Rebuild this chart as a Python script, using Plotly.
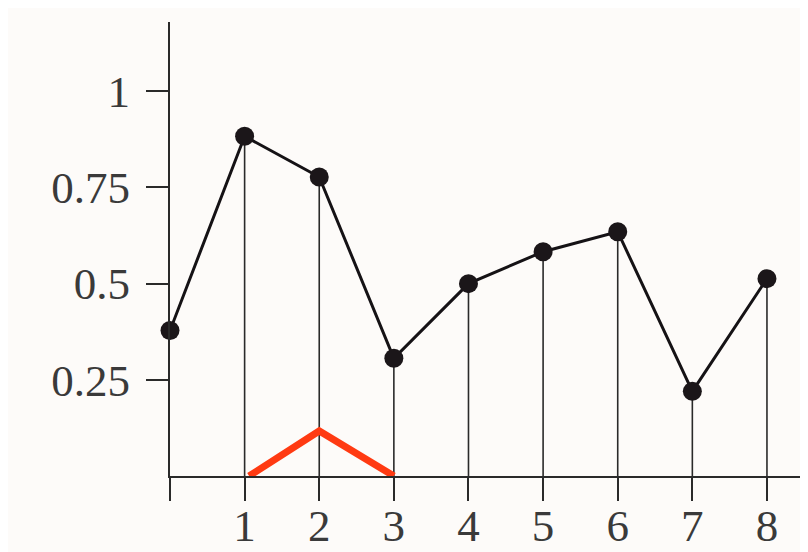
import plotly.graph_objects as go

# Data
x_vals = [0, 1, 2, 3, 4, 5, 6, 7, 8]
y_vals = [0.378, 0.883, 0.777, 0.306, 0.50, 0.583, 0.635, 0.22, 0.513]
hat_x = [1.06, 2, 3]
hat_y = [0.0, 0.117, 0.0]
x_tick_vals = [0, 1, 2, 3, 4, 5, 6, 7, 8]
x_tick_text = ["", "1", "2", "3", "4", "5", "6", "7", "8"]
y_tick_vals = [0.25, 0.5, 0.75, 1]
y_tick_text = ["0.25", "0.5", "0.75", "1"]

# stems built from data
stem_x, stem_y = [], []
for xv, yv in zip(x_vals, y_vals):
    if xv == 0:
        continue
    stem_x += [xv, xv, None]
    stem_y += [0, yv, None]

fig = go.Figure()
fig.add_trace(go.Scatter(x=stem_x, y=stem_y, mode="lines",
                         line=dict(color="#2a2a2a", width=1.6),
                         hoverinfo="skip", showlegend=False))
fig.add_trace(go.Scatter(x=hat_x, y=hat_y, mode="lines",
                         line=dict(color="#ff3a12", width=7),
                         showlegend=False))
fig.add_trace(go.Scatter(x=x_vals, y=y_vals, mode="lines+markers",
                         line=dict(color="#151215", width=3),
                         marker=dict(color="#1b1619", size=19),
                         cliponaxis=False, showlegend=False))

font = dict(family="Liberation Serif, Times New Roman, serif", size=45, color="#3a3a3a")

fig.update_layout(
    width=808, height=552,
    margin=dict(l=162, r=8, t=14, b=84),
    paper_bgcolor="#fdfbf9", plot_bgcolor="#fdfbf9",
    showlegend=False,
    font=font,
)
fig.update_xaxes(range=[0, 8.55], tickvals=x_tick_vals, ticktext=x_tick_text,
                 ticks="outside", ticklen=23, tickwidth=1.6, tickcolor="#2a2a2a",
                 ticklabelstandoff=-14,
                 showline=True, linecolor="#2a2a2a", linewidth=2, automargin=False,
                 showgrid=False, zeroline=False, tickfont=font)
fig.update_yaxes(range=[0, 1.18], tickvals=y_tick_vals, ticktext=y_tick_text,
                 ticks="outside", ticklen=22, tickwidth=1.8, tickcolor="#2a2a2a",
                 ticklabelstandoff=7,
                 showline=True, linecolor="#2a2a2a", linewidth=2, automargin=False,
                 showgrid=False, zeroline=False, tickfont=font)

fig.write_html("out.html")
